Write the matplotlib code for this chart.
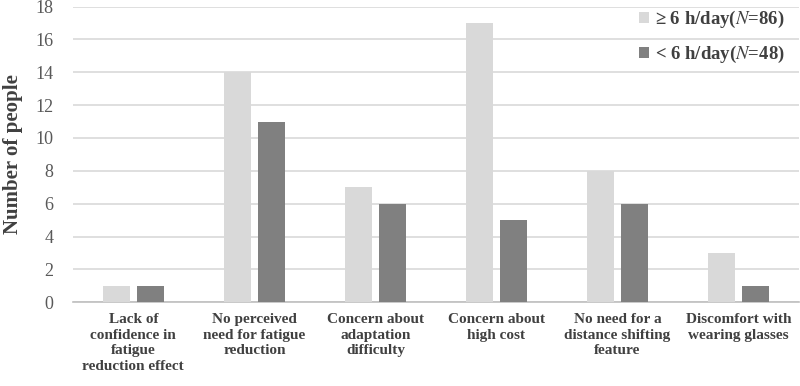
import numpy as np
from matplotlib import pyplot as plt

plt.rcParams['font.family'] = ['Liberation Serif', 'DejaVu Serif']
plt.rcParams['mathtext.fontset'] = 'stix'

#data
categories = ['Lack of\nconfidence in\nfatigue\nreduction effect',
              'No perceived\nneed for fatigue\nreduction',
              'Concern about\nadaptation\ndifficulty',
              'Concern about\nhigh cost',
              'No need for a\ndistance shifting\nfeature',
              'Discomfort with\nwearing glasses']
long_use = [1, 14, 7, 17, 8, 3]
short_use = [1, 11, 6, 5, 6, 1]
series_names = [r'≥ 6 h/day($\mathit{N}$=86)', r'< 6 h/day($\mathit{N}$=48)']
yticks = [0, 2, 4, 6, 8, 10, 12, 14, 16, 18]

fig = plt.figure(figsize=(8, 3.86), dpi=100)
ax = fig.add_axes([0.091, 0.217, 0.908, 0.766])

x = np.arange(len(categories))
w = 0.223
off = 0.14
ax.bar(x - off, long_use, w, color='#d9d9d9', label=series_names[0], zorder=3)
ax.bar(x + off, short_use, w, color='#808080', label=series_names[1], zorder=3)

ax.set_xlim(-0.5, len(categories) - 0.5)
ax.set_ylim(0, 18)
ax.set_yticks(yticks)
ax.yaxis.grid(True, color='#d9d9d9', linewidth=1.2, zorder=0)
for s in ['top', 'right', 'left']:
    ax.spines[s].set_visible(False)
ax.spines['bottom'].set_color('#bfbfbf')
ax.spines['bottom'].set_linewidth(1.2)

ax.set_xticks(x)
ax.set_xticklabels(categories, fontsize=11, fontweight='bold', color='#404040',
                   linespacing=1.25)
ax.tick_params(axis='x', length=0, pad=8)
ax.tick_params(axis='y', length=0, pad=14, labelsize=13, labelcolor='#595959')

ax.set_ylabel('Number of people', fontsize=15, fontweight='bold', color='#404040')
ax.yaxis.set_label_coords(-0.068, 0.5)

leg = ax.legend(loc='upper right', bbox_to_anchor=(0.995, 1.03), frameon=False,
                prop={'size': 13.5, 'weight': 'bold'}, labelcolor='#404040',
                handlelength=0.55, handleheight=0.55, handletextpad=0.3,
                labelspacing=0.75, borderaxespad=0.2)

plt.savefig('out.png', dpi=100)
